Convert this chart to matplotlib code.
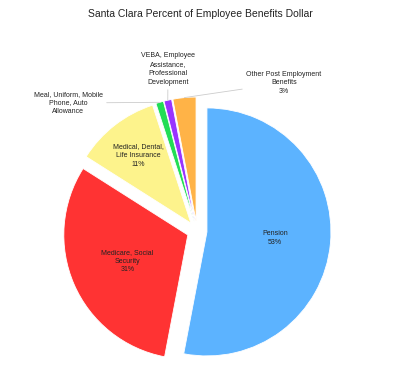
import numpy as np
import matplotlib
matplotlib.use('Agg')
from matplotlib import pyplot as plt

plt.rcParams['font.family'] = ['Liberation Sans', 'DejaVu Sans']

names = ['Pension', 'Medicare, Social\nSecurity', 'Medical, Dental,\nLife Insurance',
         'Meal, Uniform, Mobile\nPhone, Auto\nAllowance',
         'VEBA, Employee\nAssistance,\nProfessional\nDevelopment',
         'Other Post Employment\nBenefits']
values = [53, 31, 11, 1, 1, 3]
show_pct = [True, True, True, False, False, True]
colors = ['#5cb3ff', '#ff3333', '#fdf38c', '#22dd55', '#9933ff', '#ffb347']

# inside labels: fraction of radius along the mid angle; outside: text position (px, y up)
inside = {0: 0.55, 1: 0.53, 2: 0.69}
outside = {3: (68, 262), 4: (168, 296), 5: (284, 282)}

fig = plt.figure(figsize=(4, 3.65), dpi=100)
ax = fig.add_axes([0, 0, 1, 1])

# explode is in data units (pixels here), since radius is not 1
wedges, _ = ax.pie(values, colors=colors, startangle=90, counterclock=False,
                   center=(197, 134), radius=124, explode=[10] * len(values),
                   wedgeprops=dict(edgecolor='white', linewidth=0.6), frame=True)
ax.set_xlim(0, 400)
ax.set_ylim(0, 365)
ax.axis('off')

total = sum(values)
for i, w in enumerate(wedges):
    txt = names[i]
    if show_pct[i]:
        txt += '\n%d%%' % round(100 * values[i] / total)
    m = np.deg2rad((w.theta1 + w.theta2) / 2)
    cx, cy = w.center
    if i in inside:
        f = inside[i] * w.r
        ax.text(cx + f * np.cos(m), cy + f * np.sin(m), txt, ha='center', va='center',
                fontsize=5, color='#222222', linespacing=1.35)
    else:
        px, py = cx + w.r * np.cos(m), cy + w.r * np.sin(m)
        ax.annotate(txt, xy=(px, py), xytext=outside[i], ha='center', va='center',
                    fontsize=5, color='#222222', linespacing=1.35,
                    arrowprops=dict(arrowstyle='-', color='#cccccc', lw=0.6,
                                    shrinkA=1, shrinkB=0))

fig.text(0.5, 1 - 14 / 365, 'Santa Clara Percent of Employee Benefits Dollar',
         ha='center', va='center', fontsize=7.5, color='#222222')

fig.savefig('out.png', dpi=100)
